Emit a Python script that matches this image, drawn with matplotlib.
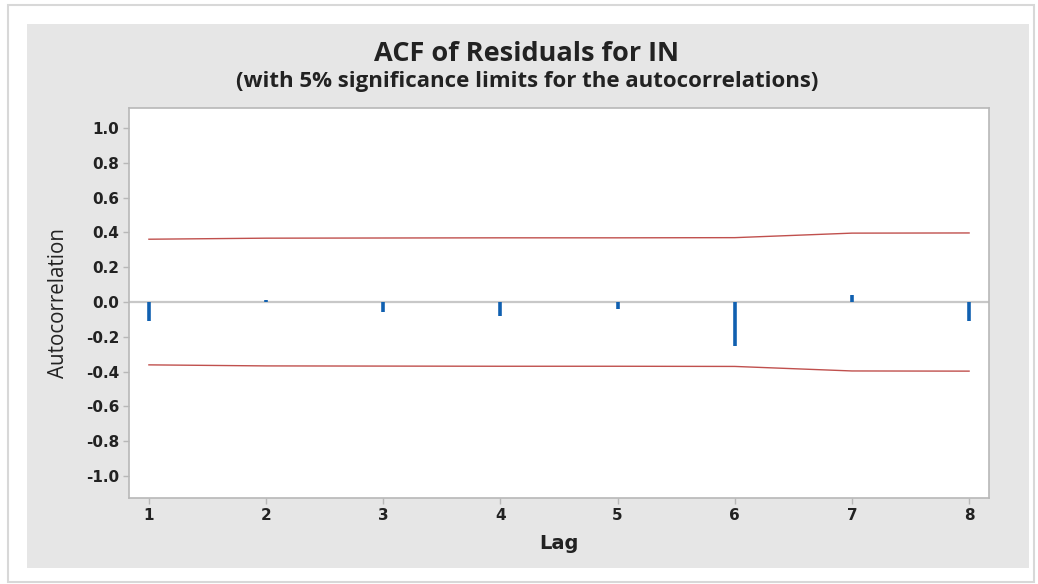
import matplotlib
matplotlib.use('Agg')
from matplotlib import pyplot
from matplotlib.patches import Rectangle
import numpy as np

# values
lags = [1, 2, 3, 4, 5, 6, 7, 8]
acf = [-0.11, 0.01, -0.06, -0.08, -0.04, -0.25, 0.04, -0.11]
limits = [0.361, 0.367, 0.368, 0.369, 0.369, 0.370, 0.396, 0.397]
yticks = [1.0, 0.8, 0.6, 0.4, 0.2, 0.0, -0.2, -0.4, -0.6, -0.8, -1.0]

W, H = 1038, 584
fig = pyplot.figure(figsize=(W / 100, H / 100), dpi=100)
fig.patch.set_facecolor('white')


def px(x0, y0, x1, y1):
    # pixel box (top-left origin) -> figure fraction rect
    return (x0 / W, 1 - y1 / H, (x1 - x0) / W, (y1 - y0) / H)


# outer frame and grey panel
l, b, w, h = px(8, 5, 1034, 582)
fig.patches.append(Rectangle((l, b), w, h, transform=fig.transFigure,
                             facecolor='white', edgecolor='#d8d8d8', lw=1.5, zorder=0))
l, b, w, h = px(27, 24, 1029, 568)
fig.patches.append(Rectangle((l, b), w, h, transform=fig.transFigure,
                             facecolor='#e6e6e6', edgecolor='none', zorder=1))

ax = fig.add_axes(px(129, 108, 989, 498))
ax.set_facecolor('white')
ax.set_zorder(2)

ax.axhline(0, color='#c8c8c8', lw=1.6, zorder=1)
ax.vlines(lags, 0, acf, color='#1060b0', lw=2.6, zorder=3)
ax.plot(lags, limits, color='#c0504d', lw=1.0, zorder=2)
ax.plot(lags, [-v for v in limits], color='#c0504d', lw=1.0, zorder=2)

ax.set_xlim(0.83, 8.17)
ax.set_ylim(-1.126, 1.115)
ax.set_xticks(lags)
ax.set_yticks(yticks)
ax.set_yticklabels([f'{v:.1f}' for v in yticks])

for s in ax.spines.values():
    s.set_color('#b8b8b8')
    s.set_linewidth(1.2)
ax.tick_params(axis='both', direction='out', length=4, width=1, color='#b8b8b8',
               labelsize=11, labelcolor='#222222', pad=3)
for t in ax.get_xticklabels() + ax.get_yticklabels():
    t.set_fontweight('bold')

ax.set_ylabel('Autocorrelation', fontsize=14.8, color='#222222', labelpad=12,
              family=['Open Sans', 'DejaVu Sans'])
ax.set_xlabel('Lag', fontsize=14, fontweight='bold', color='#222222', labelpad=8)

fig.text(527 / W, 1 - 54 / H, 'ACF of Residuals for IN', ha='center', va='center',
         fontsize=19.5, fontweight='bold', color='#222222',
         family=['Open Sans', 'DejaVu Sans'])
fig.text(527 / W, 1 - 81 / H, '(with 5% significance limits for the autocorrelations)',
         ha='center', va='center', fontsize=16, fontweight='bold', color='#222222',
         family=['Open Sans', 'DejaVu Sans'])

fig.savefig('out.png', dpi=100, facecolor=fig.get_facecolor())
